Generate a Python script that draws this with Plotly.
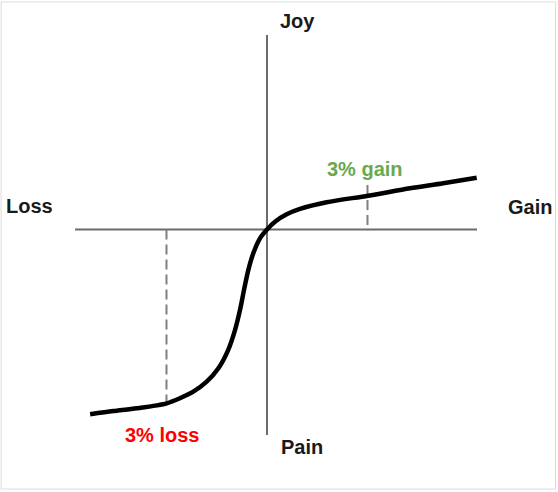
import plotly.graph_objects as go

# Value-function curve (x: % change, y: felt value)
curve_x = [-5.28, -4.59, -3.89, -2.99, -2.60, -2.20, -1.80, -1.45, -1.16, -0.955, -0.806,
           -0.687, -0.558, -0.409, -0.209, 0.0, 0.239, 0.588, 0.985, 1.78, 3.02, 4.27, 5.26, 6.26]
curve_y = [-9.24, -9.08, -8.94, -8.69, -8.44, -8.11, -7.61, -6.94, -6.03, -5.03, -4.03,
           -3.03, -2.03, -1.19, -0.44, 0.0, 0.39, 0.76, 1.03, 1.36, 1.69, 2.06, 2.31, 2.59]

# Axis extents
h_axis_x = [-5.73, 6.27]
v_axis_y = [-10.275, 9.725]

# Reference markers
loss_x = -3
loss_y = -8.69
gain_x = 3
gain_top = 2.225

labels = ["Joy", "Pain", "Loss", "Gain", "3% gain", "3% loss"]
label_x = [0.896, 1.04, -7.10, 7.85, 2.92, -3.12]
label_y = [10.43, -10.875, 1.175, 1.125, 3.03, -10.27]
label_colors = ["#1a1a1a", "#1a1a1a", "#1a1a1a", "#1a1a1a", "#6aa84f", "#ff0000"]

fig = go.Figure()

AX = "#6b6b6b"
fig.add_trace(go.Scatter(x=h_axis_x, y=[0, 0], mode="lines",
                         line=dict(color=AX, width=2), hoverinfo="skip"))
fig.add_trace(go.Scatter(x=[0, 0], y=v_axis_y, mode="lines",
                         line=dict(color=AX, width=2), hoverinfo="skip"))
fig.add_trace(go.Scatter(x=[loss_x, loss_x], y=[0, loss_y], mode="lines",
                         line=dict(color="#7f7f7f", width=2, dash="10px,5px"), hoverinfo="skip"))
fig.add_trace(go.Scatter(x=[gain_x, gain_x], y=[gain_top, 0], mode="lines",
                         line=dict(color="#7f7f7f", width=2, dash="10px,5px"), hoverinfo="skip"))
fig.add_trace(go.Scatter(x=curve_x, y=curve_y, mode="lines",
                         line=dict(color="black", width=4.5, shape="spline", smoothing=0.8),
                         hoverinfo="skip"))

for t, x, y, c in zip(labels, label_x, label_y, label_colors):
    fig.add_annotation(x=x, y=y, text=f"<b>{t}</b>", showarrow=False,
                       xanchor="center", yanchor="middle",
                       font=dict(family="Liberation Sans, Arial, sans-serif", size=20, color=c))

fig.add_shape(type="rect", xref="paper", yref="paper",
              x0=0.002, x1=0.9955, y0=0.006, y1=0.996,
              line=dict(color="#dcdcdc", width=1))

fig.update_layout(
    width=558, height=492,
    margin=dict(l=0, r=0, t=0, b=0),
    paper_bgcolor="white", plot_bgcolor="white",
    showlegend=False,
    xaxis=dict(range=[-7.970, 8.687], visible=False, fixedrange=True),
    yaxis=dict(range=[-13.125, 11.475], visible=False, fixedrange=True),
)

fig.write_html("out.html", config={"displayModeBar": False},
               post_script="document.body.style.margin='0';document.body.style.overflow='hidden';")
